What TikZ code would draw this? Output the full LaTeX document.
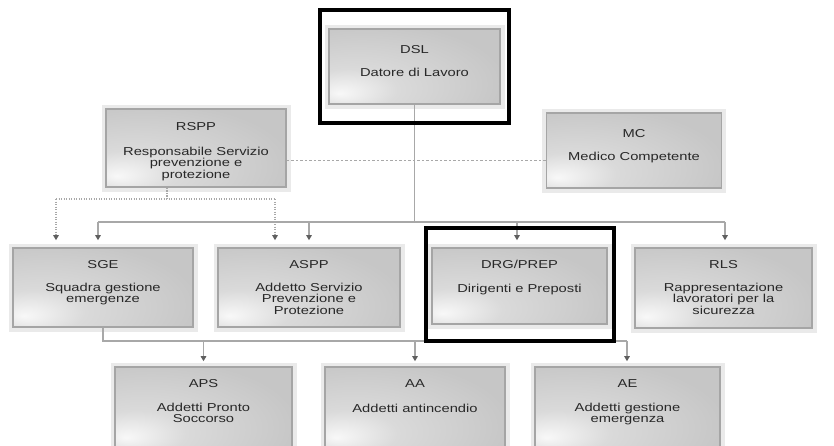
\documentclass[tikz,border=0pt]{standalone}
\usepackage{fontspec}
\setmainfont{Liberation Sans}
\newfontfamily\boxfont[FakeStretch=1.28]{Liberation Sans}
\usetikzlibrary{arrows.meta,calc}
\definecolor{boxbase}{RGB}{198,198,198}
\definecolor{boxmid}{RGB}{218,218,218}
\definecolor{boxhl}{RGB}{248,248,248}
\definecolor{boxedge}{RGB}{165,165,165}
\definecolor{boxhalo}{RGB}{234,234,234}
\definecolor{connc}{RGB}{168,168,168}
\definecolor{tipc}{RGB}{95,95,95}
\definecolor{txtc}{RGB}{40,40,40}
\pgfdeclareradialshading{boxshade}{\pgfpoint{-22bp}{-18bp}}{color(0bp)=(boxhl); color(14bp)=(boxmid); color(40bp)=(boxbase); color(100bp)=(boxbase)}
\newcommand\txtlines[1]{\begin{tabular}[t]{@{}c@{}}#1\end{tabular}}
\begin{document}
\begin{tikzpicture}[x=1pt,y=-1pt,
  orgbox/.style={shading=boxshade, draw=boxedge, line width=1.6pt, inner sep=0pt,
    preaction={draw=boxhalo, line width=9pt}},
  tlabel/.style={font=\boxfont\fontsize{11.5}{11.2}\selectfont, text=txtc, inner sep=0pt, anchor=base},
  frame/.style={draw=black, line width=3.2pt, inner sep=0pt},
  connline/.style={draw=connc, line width=1.1pt},
  arr/.style={connline, -{Triangle[width=5.5pt,length=5pt,fill=tipc,color=tipc]}},
  dotline/.style={draw=connc, line width=1.1pt, dash pattern=on 1.2pt off 1.3pt},
  dotarr/.style={dotline, -{Triangle[width=5.5pt,length=5pt,fill=tipc,color=tipc]}},
  dashline/.style={draw=connc, line width=1pt, dash pattern=on 2.5pt off 2pt}
]
\useasboundingbox (0,0) rectangle (834,445);
\clip (0,0) rectangle (834,445);
\fill[white] (0,0) rectangle (834,445);

% boxes
\node[orgbox, minimum width=171pt, minimum height=75pt] (dsl)  at (414.5,66.5) {};
\node[orgbox, minimum width=180pt, minimum height=78pt] (rspp) at (196,148) {};
\node[orgbox, minimum width=175pt, minimum height=75pt] (mc)   at (634,150.5) {};
\node[orgbox, minimum width=180pt, minimum height=79pt] (sge)  at (103,287.5) {};
\node[orgbox, minimum width=182pt, minimum height=79pt] (aspp) at (309,287.5) {};
\node[orgbox, minimum width=175pt, minimum height=76pt] (drg)  at (519.5,286) {};
\node[orgbox, minimum width=177pt, minimum height=80pt] (rls)  at (723.5,288) {};
\node[orgbox, minimum width=177pt, minimum height=82pt] (aps)  at (203.5,408) {};
\node[orgbox, minimum width=180pt, minimum height=82pt] (aa)   at (415,408) {};
\node[orgbox, minimum width=185pt, minimum height=82pt] (ae)   at (627.5,408) {};

% texts
\node[tlabel] (dslT) at (414.5,53) {DSL};
\node[tlabel] (dslB) at (414.5,76) {\txtlines{Datore di Lavoro}};
\node[tlabel] (rsppT) at (196,130) {RSPP};
\node[tlabel] (rsppB) at (196,155) {\txtlines{Responsabile Servizio\\prevenzione e\\protezione}};
\node[tlabel] (mcT) at (634,137) {MC};
\node[tlabel] (mcB) at (634,160) {\txtlines{Medico Competente}};
\node[tlabel] (sgeT) at (103,268) {SGE};
\node[tlabel] (sgeB) at (103,291) {\txtlines{Squadra gestione\\emergenze}};
\node[tlabel] (asppT) at (309,268) {ASPP};
\node[tlabel] (asppB) at (309,291) {\txtlines{Addetto Servizio\\Prevenzione e\\Protezione}};
\node[tlabel] (drgT) at (519.5,268) {DRG/PREP};
\node[tlabel] (drgB) at (519.5,292) {\txtlines{Dirigenti e Preposti}};
\node[tlabel] (rlsT) at (723.5,268) {RLS};
\node[tlabel] (rlsB) at (723.5,291) {\txtlines{Rappresentazione\\lavoratori per la\\sicurezza}};
\node[tlabel] (apsT) at (203.5,387.5) {APS};
\node[tlabel] (apsB) at (203.5,411) {\txtlines{Addetti Pronto\\Soccorso}};
\node[tlabel] (aaT) at (415,387.5) {AA};
\node[tlabel] (aaB) at (415,412) {\txtlines{Addetti antincendio}};
\node[tlabel] (aeT) at (627.5,387.5) {AE};
\node[tlabel] (aeB) at (627.5,411) {\txtlines{Addetti gestione\\emergenza}};

% connectors
\coordinate (busL) at (98,222);
\coordinate (busR) at (725,222);
\coordinate (dotL) at (56,199);
\coordinate (dotR) at (275,199);
\coordinate (bbusR) at (627,341);

\draw[dashline] ([yshift=-12pt]rspp.east) -- ([yshift=-12pt]rspp.east -| mc.west);
\draw[connline] (dsl.south) -- (dsl.south |- busL);
\draw[connline] (busL) -- (busR);
\draw[arr, shorten >=7pt] (busL) -- (busL |- sge.north);
\draw[arr, shorten >=7pt] (aspp.north |- busL) -- (aspp.north);
\draw[arr, shorten >=7pt] ([xshift=-2.5pt]drg.north |- busL) -- ([xshift=-2.5pt]drg.north);
\draw[arr, shorten >=7pt] (busR) -- (busR |- rls.north);

\draw[dotline] ([xshift=-29pt]rspp.south) -- ([xshift=-29pt]rspp.south |- dotL);
\draw[dotline] (dotL) -- (dotR);
\draw[dotarr, shorten >=7pt] (dotL) -- (dotL |- sge.north);
\draw[dotarr, shorten >=7pt] (dotR) -- (dotR |- aspp.north);

\draw[connline] (sge.south) -- (sge.south |- bbusR) -- (bbusR);
\draw[arr, shorten >=5pt] (aps.north |- bbusR) -- (aps.north);
\draw[arr, shorten >=5pt] (aa.north |- bbusR) -- (aa.north);
\draw[arr, shorten >=5pt] (bbusR) -- (bbusR |- ae.north);

% black frames
\node[frame, minimum width=189pt, minimum height=113pt] (dslframe) at (414.5,66.5) {};
\node[frame, minimum width=188pt, minimum height=113pt] (drgframe) at (520,284.5) {};
\end{tikzpicture}
\end{document}
